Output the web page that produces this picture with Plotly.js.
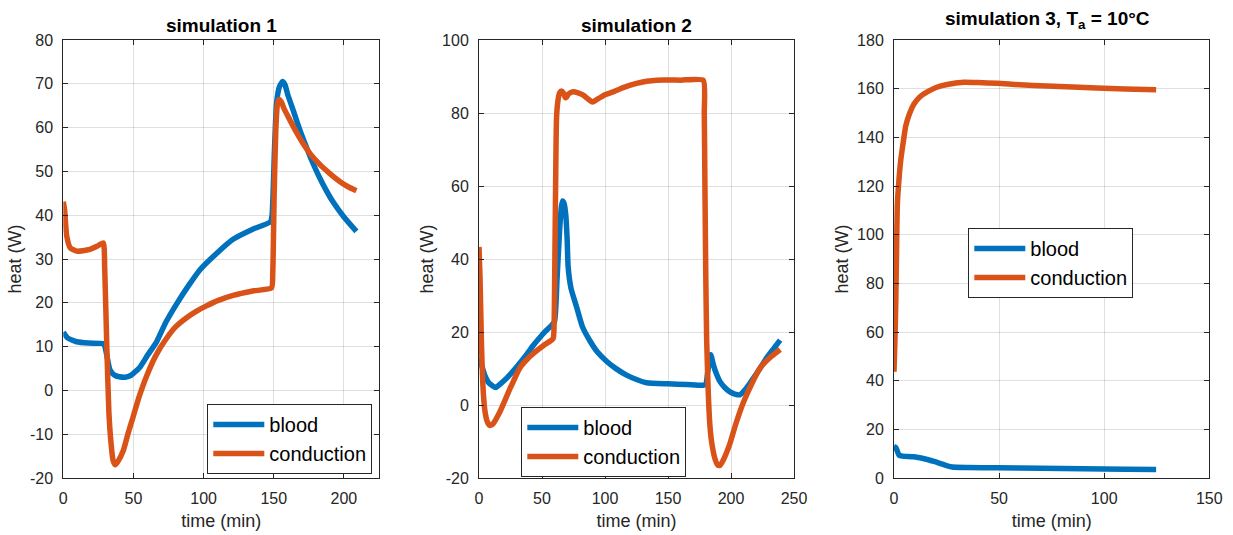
<!DOCTYPE html>
<html>
<head>
<meta charset="utf-8">
<script src="https://cdn.plot.ly/plotly-3.0.1.min.js"></script>
<style>html,body{margin:0;padding:0;background:#fff}#chart{width:1233px;height:535px}</style>
</head>
<body>
<div id="chart"></div>
<script>
// ---- Simulation 1 ----
var sim1BloodT = [0, 3, 9.5, 18, 28, 29.5, 31, 33, 35, 37, 40, 44, 48, 51, 54.6, 60, 66.5, 73, 80.7, 89, 97.3, 110, 121, 135, 147.7, 148.8, 150.5, 152, 154, 156.2, 158, 160, 163.8, 168, 173.3, 178, 182.8, 187, 192.3, 200, 208.9];
var sim1Blood  = [13.3, 12, 11.1, 10.8, 10.7, 10.2, 8, 4.9, 3.9, 3.4, 3.1, 3.0, 3.4, 4.2, 5.3, 8, 11.1, 15.5, 19.7, 23.8, 27.5, 31.5, 34.5, 36.8, 38.5, 40, 55, 65.6, 69.3, 70.5, 69.8, 67.5, 64, 60, 55.5, 51.8, 48.5, 45.9, 43, 39.6, 36.3];
var sim1CondT  = [0, 1, 2.4, 5, 9.5, 14, 19, 24, 28.5, 29.5, 31, 32.5, 34, 35.5, 37, 39, 42.7, 46, 49.8, 54, 59.4, 66, 73.6, 80, 87.9, 95, 102, 110, 121, 135, 148.4, 149.3, 150.3, 151.5, 152.7, 153.8, 155.5, 157.5, 161.4, 166, 171, 176, 182.8, 190, 197, 203, 208.9];
var sim1Cond   = [43.1, 41, 35.3, 32.5, 31.8, 31.9, 32.2, 32.9, 33.7, 28, 10, -5, -12, -16, -17, -16.2, -13.8, -10, -6, -1.5, 3.3, 8, 11.9, 14.5, 16.6, 18.1, 19.3, 20.5, 21.7, 22.7, 23.4, 27, 45, 60, 65.5, 66.4, 65.8, 64.2, 61.8, 59, 56.3, 54, 51.6, 49.5, 47.7, 46.5, 45.6];
var sim1XTicks = [0, 50, 100, 150, 200];
var sim1YTicks = [-20, -10, 0, 10, 20, 30, 40, 50, 60, 70, 80];

// ---- Simulation 2 ----
var sim2BloodT = [0, 2, 4.5, 8, 13.3, 17, 21.8, 30, 37.7, 43, 48.3, 53, 57.5, 60, 62, 64, 65.3, 66.3, 67.5, 68.9, 70, 70.7, 73, 77.4, 82, 88, 94, 101.2, 109, 117.1, 125, 133, 150, 165, 178, 180, 181.5, 183.9, 186, 188.5, 191.3, 195, 199.2, 203, 207.1, 212, 217.7, 223, 228.3, 234, 239];
var sim2Blood  = [12.9, 11, 8.2, 6, 4.8, 5.8, 7.3, 10.5, 13.8, 16.3, 18.5, 20.3, 21.8, 23, 35, 48, 54, 55.9, 55.3, 52, 45, 38, 32, 26.9, 21.5, 17.6, 14.5, 12, 9.9, 8.2, 7, 6.1, 5.8, 5.6, 5.4, 5.6, 9, 13.8, 11, 8.5, 6.4, 4.8, 3.6, 3, 2.8, 4.5, 7.3, 10, 12.9, 15.5, 17.8];
var sim2CondT  = [0, 0.8, 1.9, 3, 4.5, 6.5, 8.5, 11, 16.4, 24, 32.3, 39, 45.6, 52, 58.8, 59.6, 60.1, 60.8, 61.5, 62.5, 64, 65.5, 67, 68.5, 69.5, 71, 74.7, 78, 82.7, 86, 90.1, 95, 100, 106.5, 115, 125, 133, 140.9, 160, 178, 178.8, 179.3, 180, 180.7, 182, 183.3, 185, 187.5, 189.5, 191.3, 194, 196.5, 199.2, 204, 209.8, 216, 223, 231, 239];
var sim2Cond   = [43.3, 35, 17.6, 6, -1.1, -4.5, -5.6, -5.2, -2, 4, 10.1, 12.8, 14.8, 16.5, 18.2, 22, 36.3, 60, 78.3, 83, 85.5, 86, 85.5, 84.2, 84.4, 85.2, 85.8, 85.6, 84.9, 84, 83, 84, 85, 85.8, 87, 88.1, 88.7, 89, 89, 89, 80, 60, 35, 17.6, 3, -5.8, -11, -15, -16.5, -16.5, -15, -13, -10.5, -5, 0.7, 5.5, 10.1, 13, 15.2];
var sim2XTicks = [0, 50, 100, 150, 200, 250];
var sim2YTicks = [-20, 0, 20, 40, 60, 80, 100];

// ---- Simulation 3 ----
var sim3BloodT = [0, 0.8, 1.6, 2.4, 4, 9.5, 15.8, 19, 22.2, 25, 27.7, 35, 49.1, 70, 90, 110, 124.7];
var sim3Blood  = [12.9, 12.6, 11, 9.4, 9.0, 8.7, 7.6, 6.8, 5.9, 5.1, 4.5, 4.3, 4.2, 4.0, 3.8, 3.6, 3.5];
var sim3CondT  = [0, 0.4, 0.8, 1.2, 1.6, 2.4, 3.2, 4.4, 5.6, 7.5, 9.5, 12.5, 15.8, 20, 25.3, 33.2, 40, 49.1, 60, 72.8, 85, 96.5, 110, 124.7];
var sim3Cond   = [43.7, 55, 70.4, 92, 112.4, 123, 130.6, 138, 144.7, 150, 153.7, 156.8, 158.7, 160.5, 161.7, 162.6, 162.5, 162.2, 161.6, 161.1, 160.7, 160.3, 159.9, 159.6];
var sim3XTicks = [0, 50, 100, 150];
var sim3YTicks = [0, 20, 40, 60, 80, 100, 120, 140, 160, 180];

var seriesNames = ['blood', 'conduction'];
var titles = ['simulation 1', 'simulation 2', 'simulation 3, T<sub>a</sub> = 10°C'];
var xLabel = 'time (min)';
var yLabel = 'heat (W)';

var BLUE = '#0072BD', ORANGE = '#D95319';
var FONT = 'Liberation Sans, Arial, Helvetica, sans-serif';
var LW = 5.5;

function tr(x, y, name, color, ax, lg) {
  return {x: x, y: y, name: name, type: 'scatter', mode: 'lines',
    line: {color: color, width: LW, shape: 'spline', smoothing: 0.5},
    xaxis: 'x' + ax, yaxis: 'y' + ax, legend: lg, hoverinfo: 'skip'};
}

var data = [
  tr(sim1BloodT, sim1Blood, seriesNames[0], BLUE, '', 'legend'),
  tr(sim1CondT, sim1Cond, seriesNames[1], ORANGE, '', 'legend'),
  tr(sim2BloodT, sim2Blood, seriesNames[0], BLUE, '2', 'legend2'),
  tr(sim2CondT, sim2Cond, seriesNames[1], ORANGE, '2', 'legend2'),
  tr(sim3BloodT, sim3Blood, seriesNames[0], BLUE, '3', 'legend3'),
  tr(sim3CondT, sim3Cond, seriesNames[1], ORANGE, '3', 'legend3')
];

function axis(domain, range, ticks, anchor, isX) {
  return {
    domain: domain, range: range, anchor: anchor,
    tickmode: 'array', tickvals: ticks,
    ticktext: ticks.map(function (v) { return String(v); }),
    showline: true, linecolor: '#262626', linewidth: 1, mirror: 'ticks',
    ticks: 'inside', ticklen: 5, tickwidth: 1, tickcolor: '#262626',
    ticklabelstandoff: 6,
    showgrid: true, gridcolor: 'rgba(38,38,38,0.15)', gridwidth: 1,
    zeroline: false, fixedrange: true,
    tickfont: {family: FONT, size: 16, color: '#262626'},
    title: {text: isX ? xLabel : yLabel, font: {family: FONT, size: 18, color: '#262626'}, standoff: isX ? 8 : 3},
    automargin: false
  };
}

var X1 = [63.3 / 1233, 379 / 1233], X2 = [479 / 1233, 794 / 1233], X3 = [894 / 1233, 1209.3 / 1233];
var yDom = [1 - 478 / 535, 1 - 40 / 535];

function legendAt(xpx, ypx) {
  return {x: xpx / 1233, y: 1 - ypx / 535, xanchor: 'left', yanchor: 'top',
    bgcolor: '#fff', bordercolor: '#262626', borderwidth: 1,
    font: {family: FONT, size: 20, color: '#000'}, itemwidth: 51, tracegroupgap: 0};
}

var layout = {
  width: 1233, height: 535,
  margin: {l: 0, r: 0, t: 0, b: 0},
  paper_bgcolor: '#fff', plot_bgcolor: '#fff',
  showlegend: true,
  font: {family: FONT},
  xaxis:  axis(X1, [0, 225], sim1XTicks, 'y', true),
  yaxis:  axis(yDom, [-20, 80], sim1YTicks, 'x', false),
  xaxis2: axis(X2, [0, 250], sim2XTicks, 'y2', true),
  yaxis2: axis(yDom, [-20, 100], sim2YTicks, 'x2', false),
  xaxis3: axis(X3, [0, 150], sim3XTicks, 'y3', true),
  yaxis3: axis(yDom, [0, 180], sim3YTicks, 'x3', false),
  legend:  legendAt(207.3, 404),
  legend2: legendAt(521.3, 407),
  legend3: legendAt(968.3, 228),
  annotations: [
    {text: '<b>' + titles[0] + '</b>', xref: 'paper', yref: 'paper', x: (X1[0] + X1[1]) / 2, y: 1 - 25.5 / 535, xanchor: 'center', yanchor: 'middle', showarrow: false, font: {family: FONT, size: 19, color: '#000'}},
    {text: '<b>' + titles[1] + '</b>', xref: 'paper', yref: 'paper', x: (X2[0] + X2[1]) / 2, y: 1 - 25.5 / 535, xanchor: 'center', yanchor: 'middle', showarrow: false, font: {family: FONT, size: 19, color: '#000'}},
    {text: '<b>' + titles[2] + '</b>', xref: 'paper', yref: 'paper', x: (X3[0] + X3[1]) / 2 - 4 / 1233, y: 1 - 20 / 535, xanchor: 'center', yanchor: 'middle', showarrow: false, font: {family: FONT, size: 19, color: '#000'}}
  ]
};

Plotly.newPlot('chart', data, layout, {displayModeBar: false, staticPlot: true});
</script>
</body>
</html>
